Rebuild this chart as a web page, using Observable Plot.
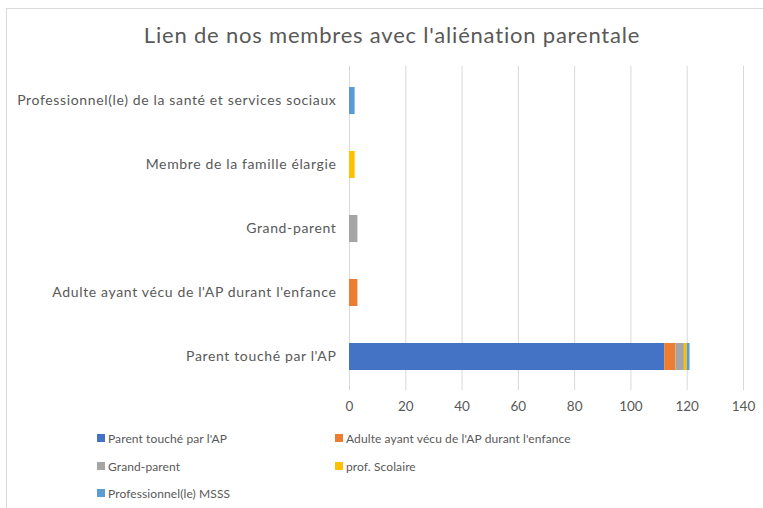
<!DOCTYPE html>
<html>
<head>
<meta charset="utf-8">
<script src="https://cdn.jsdelivr.net/npm/d3@7"></script>
<script src="https://cdn.jsdelivr.net/npm/@observablehq/plot@0.6"></script>
<style>
  html, body { margin: 0; padding: 0; background: #fff; }
  #wrap { position: relative; width: 763px; height: 508px; overflow: hidden; font-family: Lato, "Liberation Sans", sans-serif; color: #595959; }
  #frame { position: absolute; left: 6px; top: 8px; width: 800px; height: 600px; border: 1px solid #d9d9d9; box-sizing: border-box; }
  #title { position: absolute; left: 0; top: 21px; width: 784px; text-align: center; font-size: 22px; letter-spacing: 0.8px; color: #595959; }
  #chart { position: absolute; left: 0; top: 0; }
  #legend { position: absolute; left: 0; top: 0; width: 763px; height: 508px; font-size: 12px; letter-spacing: 0.1px; }
  .item { position: absolute; display: flex; align-items: center; white-space: nowrap; }
  .sw { width: 8px; height: 8px; margin-right: 3px; }
  #chart svg g[aria-label="y-axis tick label"] text { letter-spacing: 0.64px; }
</style>
</head>
<body>
<div id="wrap">
  <div id="frame"></div>
  <div id="chart"></div>
  <div id="title">Lien de nos membres avec l'aliénation parentale</div>
  <div id="legend"></div>
</div>
<script>
// Categories (bottom to top as in the reference)
const categories = [
  "Parent touché par l'AP",
  "Adulte ayant vécu de l'AP durant l'enfance",
  "Grand-parent",
  "Membre de la famille élargie",
  "Professionnel(le) de la santé et services sociaux"
];
const seriesNames = [
  "Parent touché par l'AP",
  "Adulte ayant vécu de l'AP durant l'enfance",
  "Grand-parent",
  "prof. Scolaire",
  "Professionnel(le) MSSS"
];
const seriesColors = ["#4472C4", "#ED7D31", "#A5A5A5", "#FFC000", "#5B9BD5"];
// values per series, aligned with categories
const parentVals   = [112, 0, 0, 0, 0];
const adulteVals   = [4, 3, 0, 0, 0];
const grandVals    = [3, 0, 3, 0, 0];
const scolaireVals = [1, 0, 0, 2, 0];
const msssVals     = [1, 0, 0, 0, 2];
const xTicks = [0, 20, 40, 60, 80, 100, 120, 140];

const seriesValues = [parentVals, adulteVals, grandVals, scolaireVals, msssVals];
const data = [];
categories.forEach((c, i) => {
  seriesNames.forEach((s, j) => {
    data.push({cat: c, series: s, value: seriesValues[j][i]});
  });
});

const chart = Plot.plot({
  width: 763,
  height: 420,
  marginTop: 66,
  marginBottom: 30,
  marginLeft: 349,
  marginRight: 20,
  style: {fontFamily: "Lato, 'Liberation Sans', sans-serif", fontSize: "13.5px", color: "#595959", background: "transparent", overflow: "visible"},
  x: {domain: [0, 140], ticks: xTicks, tickSize: 0, label: null, grid: false},
  y: {domain: categories.slice().reverse(), paddingInner: 0.58, paddingOuter: 0.29, tickSize: 0, label: null},
  color: {domain: seriesNames, range: seriesColors},
  marks: [
    Plot.ruleX(xTicks, {stroke: "#d9d9d9", strokeWidth: 1}),
    Plot.barX(data, {y: "cat", x: "value", fill: "series"}),
    Plot.axisX({ticks: xTicks, tickSize: 0, tickPadding: 11, fill: "#595959", label: null, fontSize: 13.5}),
    Plot.axisY({tickSize: 0, tickPadding: 13, fill: "#595959", label: null, fontSize: 14})
  ]
});
document.getElementById("chart").appendChild(chart);

// Legend
const legend = document.getElementById("legend");
const pos = [[97, 438], [335, 438], [97, 466], [335, 466], [97, 493]];
seriesNames.forEach((s, i) => {
  const it = document.createElement("div");
  it.className = "item";
  it.style.left = pos[i][0] + "px";
  it.style.top = (pos[i][1] - 9) + "px";
  it.style.height = "18px";
  const sw = document.createElement("div");
  sw.className = "sw";
  sw.style.background = seriesColors[i];
  const t = document.createElement("span");
  t.textContent = s;
  it.appendChild(sw);
  it.appendChild(t);
  legend.appendChild(it);
});
</script>
</body>
</html>
